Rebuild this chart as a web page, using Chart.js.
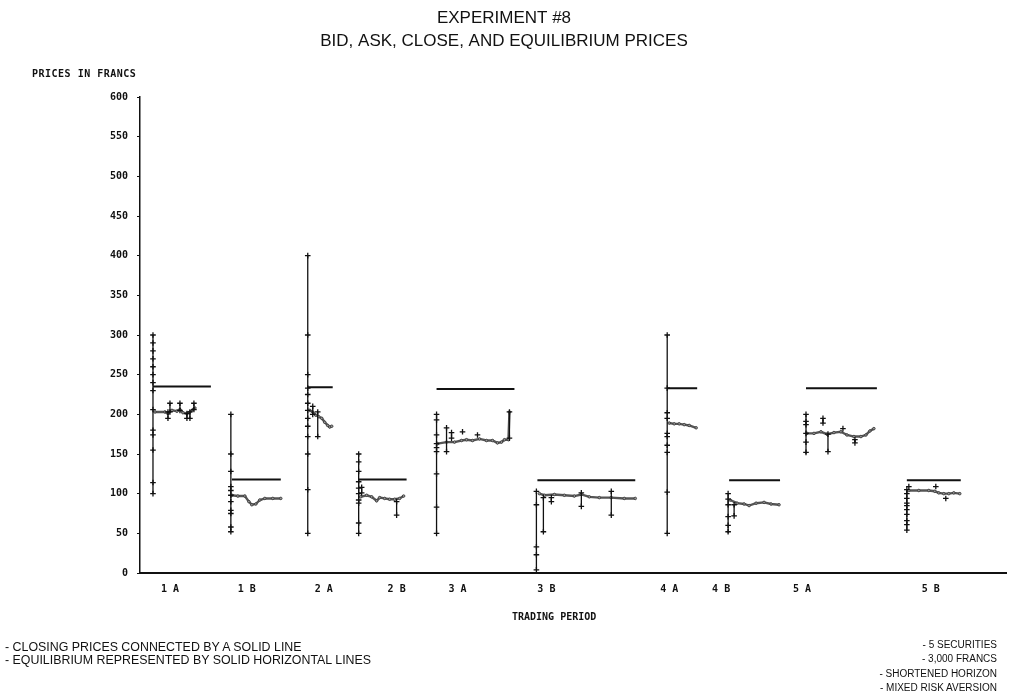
<!DOCTYPE html>
<html>
<head>
<meta charset="utf-8">
<script src="https://cdn.jsdelivr.net/npm/chart.js@4.4.1/dist/chart.umd.min.js"></script>
<style>
  body { margin: 0; background: #fff; overflow: hidden; }
  #wrap { position: relative; width: 1012px; height: 697px; }
  .lbl { position: absolute; font: bold 10px "DejaVu Sans Mono", monospace; line-height: 12px; color: #111; white-space: nowrap; }
  .note { position: absolute; font-family: "Liberation Sans", Arial, sans-serif; color: #111; white-space: nowrap; }
</style>
</head>
<body>
<div id="wrap">
  <canvas id="expChart"></canvas>
  <div class="lbl" style="left:32px;top:68px;letter-spacing:0.5px">PRICES IN FRANCS</div>
  <div class="lbl" style="left:512px;top:611px">TRADING PERIOD</div>
  <div class="note" style="left:5px;top:641px;font-size:12.4px;line-height:13px">- CLOSING PRICES CONNECTED BY A SOLID LINE<br>- EQUILIBRIUM REPRESENTED BY SOLID HORIZONTAL LINES</div>
  <div class="note" style="right:15px;top:638px;font-size:10px;line-height:14.3px;text-align:right">- 5 SECURITIES<br>- 3,000 FRANCS<br>- SHORTENED HORIZON<br>- MIXED RISK AVERSION</div>
</div>
<script>
// trading periods and where their labels sit on the time axis
const PERIODS = ["1 A", "1 B", "2 A", "2 B", "3 A", "3 B", "4 A", "4 B", "5 A", "5 B"];
const LABEL_AT = [30, 107, 184, 257, 318, 407, 530, 582, 663, 792];
const Y_TICKS = [0, 50, 100, 150, 200, 250, 300, 350, 400, 450, 500, 550, 600];

// equilibrium price for each period
const EQ_START = [13, 92, 168, 219, 297, 398, 528, 590, 667, 768];
const EQ_END = [71, 141, 193, 267, 375, 496, 558, 641, 738, 822];
const EQ_PRICE = [235, 118, 234, 118, 232, 117, 233, 117, 233, 117];

// opening bid-ask spread
const OPEN_X = [13, 91, 168, 219, 297, 397, 528, 589, 667, 768];
const OPEN_LO = [100, 52, 50, 50, 50, 4, 50, 50, 150, 54];
const OPEN_HI = [300, 200, 400, 150, 200, 103, 300, 100, 200, 105];
const OPEN_QUOTES = [
  [300, 290, 280, 270, 260, 250, 240, 230, 206, 180, 174, 155, 114, 100],
  [200, 150, 128, 109, 104, 98, 90, 79, 75, 58, 52],
  [400, 300, 250, 233, 225, 214, 205, 195, 185, 172, 150, 105, 50],
  [150, 140, 128, 115, 107, 100, 92, 88, 63, 50],
  [200, 193, 174, 163, 158, 153, 125, 83, 50],
  [103, 86, 33, 23, 4],
  [300, 233, 202, 195, 176, 172, 161, 152, 102, 50],
  [100, 93, 86, 71, 60, 52],
  [200, 191, 187, 176, 165, 152],
  [105, 100, 94, 88, 85, 80, 74, 66, 61, 54]
];

// later bids and asks inside the periods
const QUOTE_X = [28, 30, 40, 47, 50, 54, 173, 178, 222, 257, 307, 312, 323, 338, 370, 404, 412, 442, 472, 595, 684, 689, 704, 716, 770, 797, 807];
const QUOTE_LO = [195, 203, 205, 195, 195, 206, 200, 172, 101, 73, 153, 170, 178, 174, 170, 52, 90, 84, 73, 72, 189, 153, 182, 164, 109, 109, 94];
const QUOTE_HI = [203, 214, 214, 201, 203, 214, 210, 203, 108, 90, 183, 177, 178, 174, 203, 95, 95, 101, 103, 86, 195, 175, 182, 168, 109, 109, 94];

// closing prices, one list per period
const CLOSE_X = [
  [15, 25, 28, 32, 37, 40, 43, 47, 50, 53, 55],
  [92, 98, 105, 109, 112, 116, 120, 125, 133, 141],
  [170, 173, 176, 179, 182, 185, 188, 190, 192],
  [221, 227, 232, 237, 240, 245, 250, 255, 260, 264],
  [298, 307, 315, 322, 327, 333, 340, 347, 353, 358, 362, 365, 369, 370],
  [400, 405, 415, 425, 435, 442, 450, 460, 472, 485, 496],
  [530, 535, 540, 545, 550, 557],
  [591, 598, 605, 610, 617, 625, 632, 640],
  [668, 675, 682, 688, 695, 702, 708, 715, 722, 727, 731, 735],
  [770, 780, 790, 796, 800, 805, 810, 815, 821]
];
const CLOSE_PRICE = [
  [203, 203, 201, 205, 204, 206, 202, 201, 203, 206, 208],
  [98, 97, 97, 90, 86, 87, 92, 94, 94, 94],
  [205, 203, 199, 197, 195, 190, 186, 184, 185],
  [96, 98, 96, 91, 95, 94, 93, 93, 94, 97],
  [163, 165, 165, 167, 168, 167, 169, 167, 167, 164, 165, 168, 168, 203],
  [100, 98, 99, 98, 97, 99, 96, 95, 95, 94, 94],
  [189, 188, 188, 187, 186, 183],
  [92, 88, 87, 85, 88, 89, 87, 86],
  [176, 176, 178, 175, 177, 178, 174, 172, 172, 174, 179, 182],
  [104, 104, 104, 103, 101, 100, 100, 101, 100]
];

// build point lists
const eqData = [];
EQ_START.forEach(function (s, i) {
  eqData.push({ x: s, y: EQ_PRICE[i] }, { x: EQ_END[i], y: EQ_PRICE[i] }, { x: EQ_END[i], y: null });
});

const rangeData = [];
const quoteData = [];
OPEN_X.forEach(function (x, i) {
  rangeData.push({ x: x, y: OPEN_LO[i] }, { x: x, y: OPEN_HI[i] }, { x: x, y: null });
  OPEN_QUOTES[i].forEach(function (q) { quoteData.push({ x: x, y: q }); });
});
QUOTE_X.forEach(function (x, i) {
  if (QUOTE_LO[i] !== QUOTE_HI[i]) {
    rangeData.push({ x: x, y: QUOTE_LO[i] }, { x: x, y: QUOTE_HI[i] }, { x: x, y: null });
    quoteData.push({ x: x, y: QUOTE_LO[i] });
  }
  quoteData.push({ x: x, y: QUOTE_HI[i] });
});

const closeData = [];
CLOSE_X.forEach(function (xs, p) {
  xs.forEach(function (x, j) { closeData.push({ x: x, y: CLOSE_PRICE[p][j] }); });
  closeData.push({ x: xs[xs.length - 1], y: null });
});

const tickFont = { family: "'DejaVu Sans Mono', monospace", size: 10, weight: "bold" };

new Chart(document.getElementById("expChart"), {
  type: "line",
  data: {
    datasets: [
      {
        label: "Equilibrium",
        data: eqData,
        borderColor: "#111",
        borderWidth: 2,
        pointRadius: 0,
        spanGaps: false,
      },
      {
        label: "Bid-ask range",
        data: rangeData,
        borderColor: "#111",
        borderWidth: 1.3,
        pointRadius: 0,
        spanGaps: false,
      },
      {
        label: "Bids and asks",
        data: quoteData,
        showLine: false,
        pointStyle: "cross",
        pointRadius: 2.8,
        pointBorderWidth: 1.3,
        pointBorderColor: "#111",
      },
      {
        label: "Closing price",
        data: closeData,
        borderColor: "#555",
        borderWidth: 2.4,
        pointRadius: 1.3,
        pointBackgroundColor: "#999",
        pointBorderColor: "#333",
        pointBorderWidth: 0.8,
        spanGaps: false,
      },
    ],
  },
  options: {
    responsive: true,
    maintainAspectRatio: false,
    animation: false,
    layout: { padding: { left: 0, right: 4, top: 0, bottom: 0 } },
    plugins: {
      legend: { display: false },
      tooltip: { enabled: false },
      title: {
        display: true,
        text: ["EXPERIMENT #8", "BID, ASK, CLOSE, AND EQUILIBRIUM PRICES"],
        color: "#111",
        font: { family: "'Liberation Sans', Arial, sans-serif", size: 17, weight: "normal", lineHeight: 1.4 },
        padding: { top: 6, bottom: 43.4 },
      },
    },
    scales: {
      x: {
        type: "linear",
        min: 0,
        max: 868,
        afterFit: function (scale) { scale.height = 124; },
        afterBuildTicks: function (scale) {
          scale.ticks = LABEL_AT.map(function (v) { return { value: v }; });
        },
        ticks: {
          autoSkip: false,
          maxRotation: 0,
          padding: 10,
          color: "#111",
          font: tickFont,
          callback: function (v, i) { return PERIODS[i]; },
        },
        grid: { drawOnChartArea: false, drawTicks: false },
        border: { color: "#111", width: 2 },
      },
      y: {
        min: 0,
        max: 600,
        afterFit: function (scale) { scale.width = 140; },
        afterBuildTicks: function (scale) {
          scale.ticks = Y_TICKS.map(function (v) { return { value: v }; });
        },
        ticks: { padding: 9, color: "#111", font: tickFont },
        grid: { drawOnChartArea: false, drawTicks: true, tickLength: 3, color: "#111" },
        border: { color: "#111", width: 1.5 },
      },
    },
  },
});
</script>
</body>
</html>
